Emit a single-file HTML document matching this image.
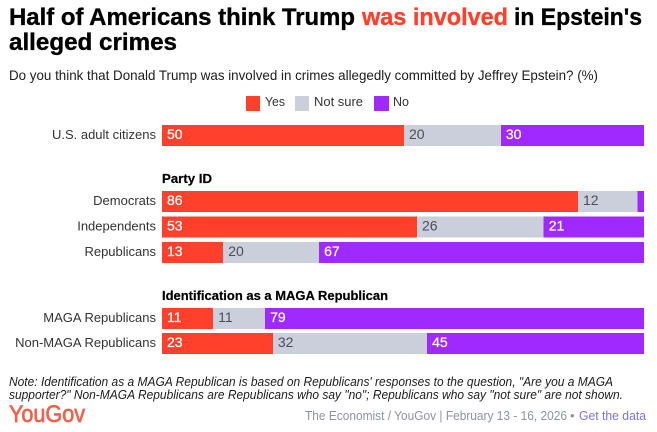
<!DOCTYPE html>
<html lang="en">
<head>
<meta charset="utf-8">
<title>Half of Americans think Trump was involved in Epstein's alleged crimes</title>
<style>
html,body{margin:0;padding:0;background:#fff}
svg{display:block;font-family:"Liberation Sans",sans-serif}
</style>
</head>
<body>
<svg id="chart" xmlns="http://www.w3.org/2000/svg" width="657" height="432" viewBox="0 0 657 432">
  <rect width="657" height="432" fill="#fff"/>
  <text y="25" font-size="24" font-weight="700" fill="#000" stroke="#000" stroke-width="0.35">
    <tspan x="9" textLength="346" lengthAdjust="spacingAndGlyphs">Half of Americans think Trump</tspan>
    <tspan x="362" textLength="146" lengthAdjust="spacingAndGlyphs" fill="#FF412C" stroke="#FF412C">was involved</tspan>
    <tspan x="514" textLength="128" lengthAdjust="spacingAndGlyphs">in Epstein's</tspan>
  </text>
  <text x="9" y="50" font-size="24" font-weight="700" fill="#000" stroke="#000" stroke-width="0.35" textLength="168" lengthAdjust="spacingAndGlyphs">alleged crimes</text>
  <text x="9" y="80" font-size="14" fill="#1c1c1c" textLength="589" lengthAdjust="spacingAndGlyphs">Do you think that Donald Trump was involved in crimes allegedly committed by Jeffrey Epstein? (%)</text>

  <g font-size="13" fill="#333">
    <rect x="246" y="96" width="14" height="15" fill="#FF412C"/>
    <text x="265" y="106" textLength="20" lengthAdjust="spacingAndGlyphs">Yes</text>
    <rect x="295" y="96" width="14" height="15" fill="#CBCFDB"/>
    <text x="314" y="106" textLength="49" lengthAdjust="spacingAndGlyphs">Not sure</text>
    <rect x="374" y="96" width="15" height="15" fill="#9F29FF"/>
    <text x="393" y="106" textLength="16" lengthAdjust="spacingAndGlyphs">No</text>
  </g>

  <g id="marks"></g>

  <text x="162" y="183" font-size="12.5" font-weight="700" fill="#000" stroke="#000" stroke-width="0.2" textLength="50" lengthAdjust="spacingAndGlyphs">Party ID</text>
  <text x="162" y="300" font-size="12.5" font-weight="700" fill="#000" stroke="#000" stroke-width="0.2" textLength="226" lengthAdjust="spacingAndGlyphs">Identification as a MAGA Republican</text>

  <text x="9" y="386" font-size="12.5" font-style="italic" fill="#1c1c1c" textLength="604" lengthAdjust="spacingAndGlyphs">Note: Identification as a MAGA Republican is based on Republicans' responses to the question, "Are you a MAGA</text>
  <text x="9" y="399" font-size="12.5" font-style="italic" fill="#1c1c1c" textLength="614" lengthAdjust="spacingAndGlyphs">supporter?" Non-MAGA Republicans are Republicans who say "no"; Republicans who say "not sure" are not shown.</text>
  <text x="9" y="422" font-size="24" fill="#F2604F" stroke="#F2604F" stroke-width="0.7" textLength="76" lengthAdjust="spacingAndGlyphs">YouGov</text>
  <text x="305" y="420" font-size="13" fill="#8E929B" textLength="262" lengthAdjust="spacingAndGlyphs">The Economist / YouGov | February 13 - 16, 2026</text>
  <text x="570" y="420" font-size="13" fill="#8E929B">•</text>
  <text x="579" y="420" font-size="13" fill="#7F70F0" textLength="67" lengthAdjust="spacingAndGlyphs">Get the data</text>
</svg>
<script>
const categories = ["U.S. adult citizens", "Democrats", "Independents", "Republicans", "MAGA Republicans", "Non-MAGA Republicans"];
const groupIndex = [0, 1, 1, 1, 2, 2];
const yesValues = [50.2, 86.3, 52.9, 12.7, 10.6, 23];
const notSureValues = [20.1, 12.4, 26.3, 19.9, 10.8, 32];
const noValues = [29.7, 1.3, 20.8, 67.4, 78.6, 45];

const svgNS = "http://www.w3.org/2000/svg";
const marks = document.getElementById("marks");
const plotLeft = 162, plotWidth = 482, barHeight = 21;
const xLen = v => v / 100 * plotWidth;
const rowY = i => 125 + 25.4 * i + 40.6 * groupIndex[i];

function addText(x, y, str, fill, size) {
  const t = document.createElementNS(svgNS, "text");
  t.setAttribute("x", x);
  t.setAttribute("y", y);
  t.setAttribute("fill", fill);
  t.setAttribute("font-size", size);
  t.textContent = str;
  marks.appendChild(t);
  return t;
}

const seriesList = [
  {key: "yes", values: yesValues, fill: "#FF412C", text: "#fff"},
  {key: "not-sure", values: notSureValues, fill: "#CBCFDB", text: "#4a4d55"},
  {key: "no", values: noValues, fill: "#9F29FF", text: "#fff"}
];

categories.forEach((cat, i) => {
  const y = rowY(i);
  const catLabel = addText(156, y + 14, cat, "#333", 13);
  catLabel.setAttribute("text-anchor", "end");
  
  
  let start = 0;
  seriesList.forEach(s => {
    const v = s.values[i];
    const r = document.createElementNS(svgNS, "rect");
    r.setAttribute("x", plotLeft + xLen(start));
    r.setAttribute("y", y);
    r.setAttribute("width", xLen(v));
    r.setAttribute("height", barHeight);
    r.setAttribute("fill", s.fill);
    r.setAttribute("shape-rendering", "crispEdges");
    
    
    marks.appendChild(r);
    if (v >= 3) {
      const lab = addText(plotLeft + xLen(start) + 5, y + 14, String(Math.round(v)), s.text, 14);
      if (s.text === "#fff") {
        lab.setAttribute("stroke", "#fff");
        lab.setAttribute("stroke-width", "0.25");
      }
      
      
    }
    start += v;
  });
});
</script>
</body>
</html>
